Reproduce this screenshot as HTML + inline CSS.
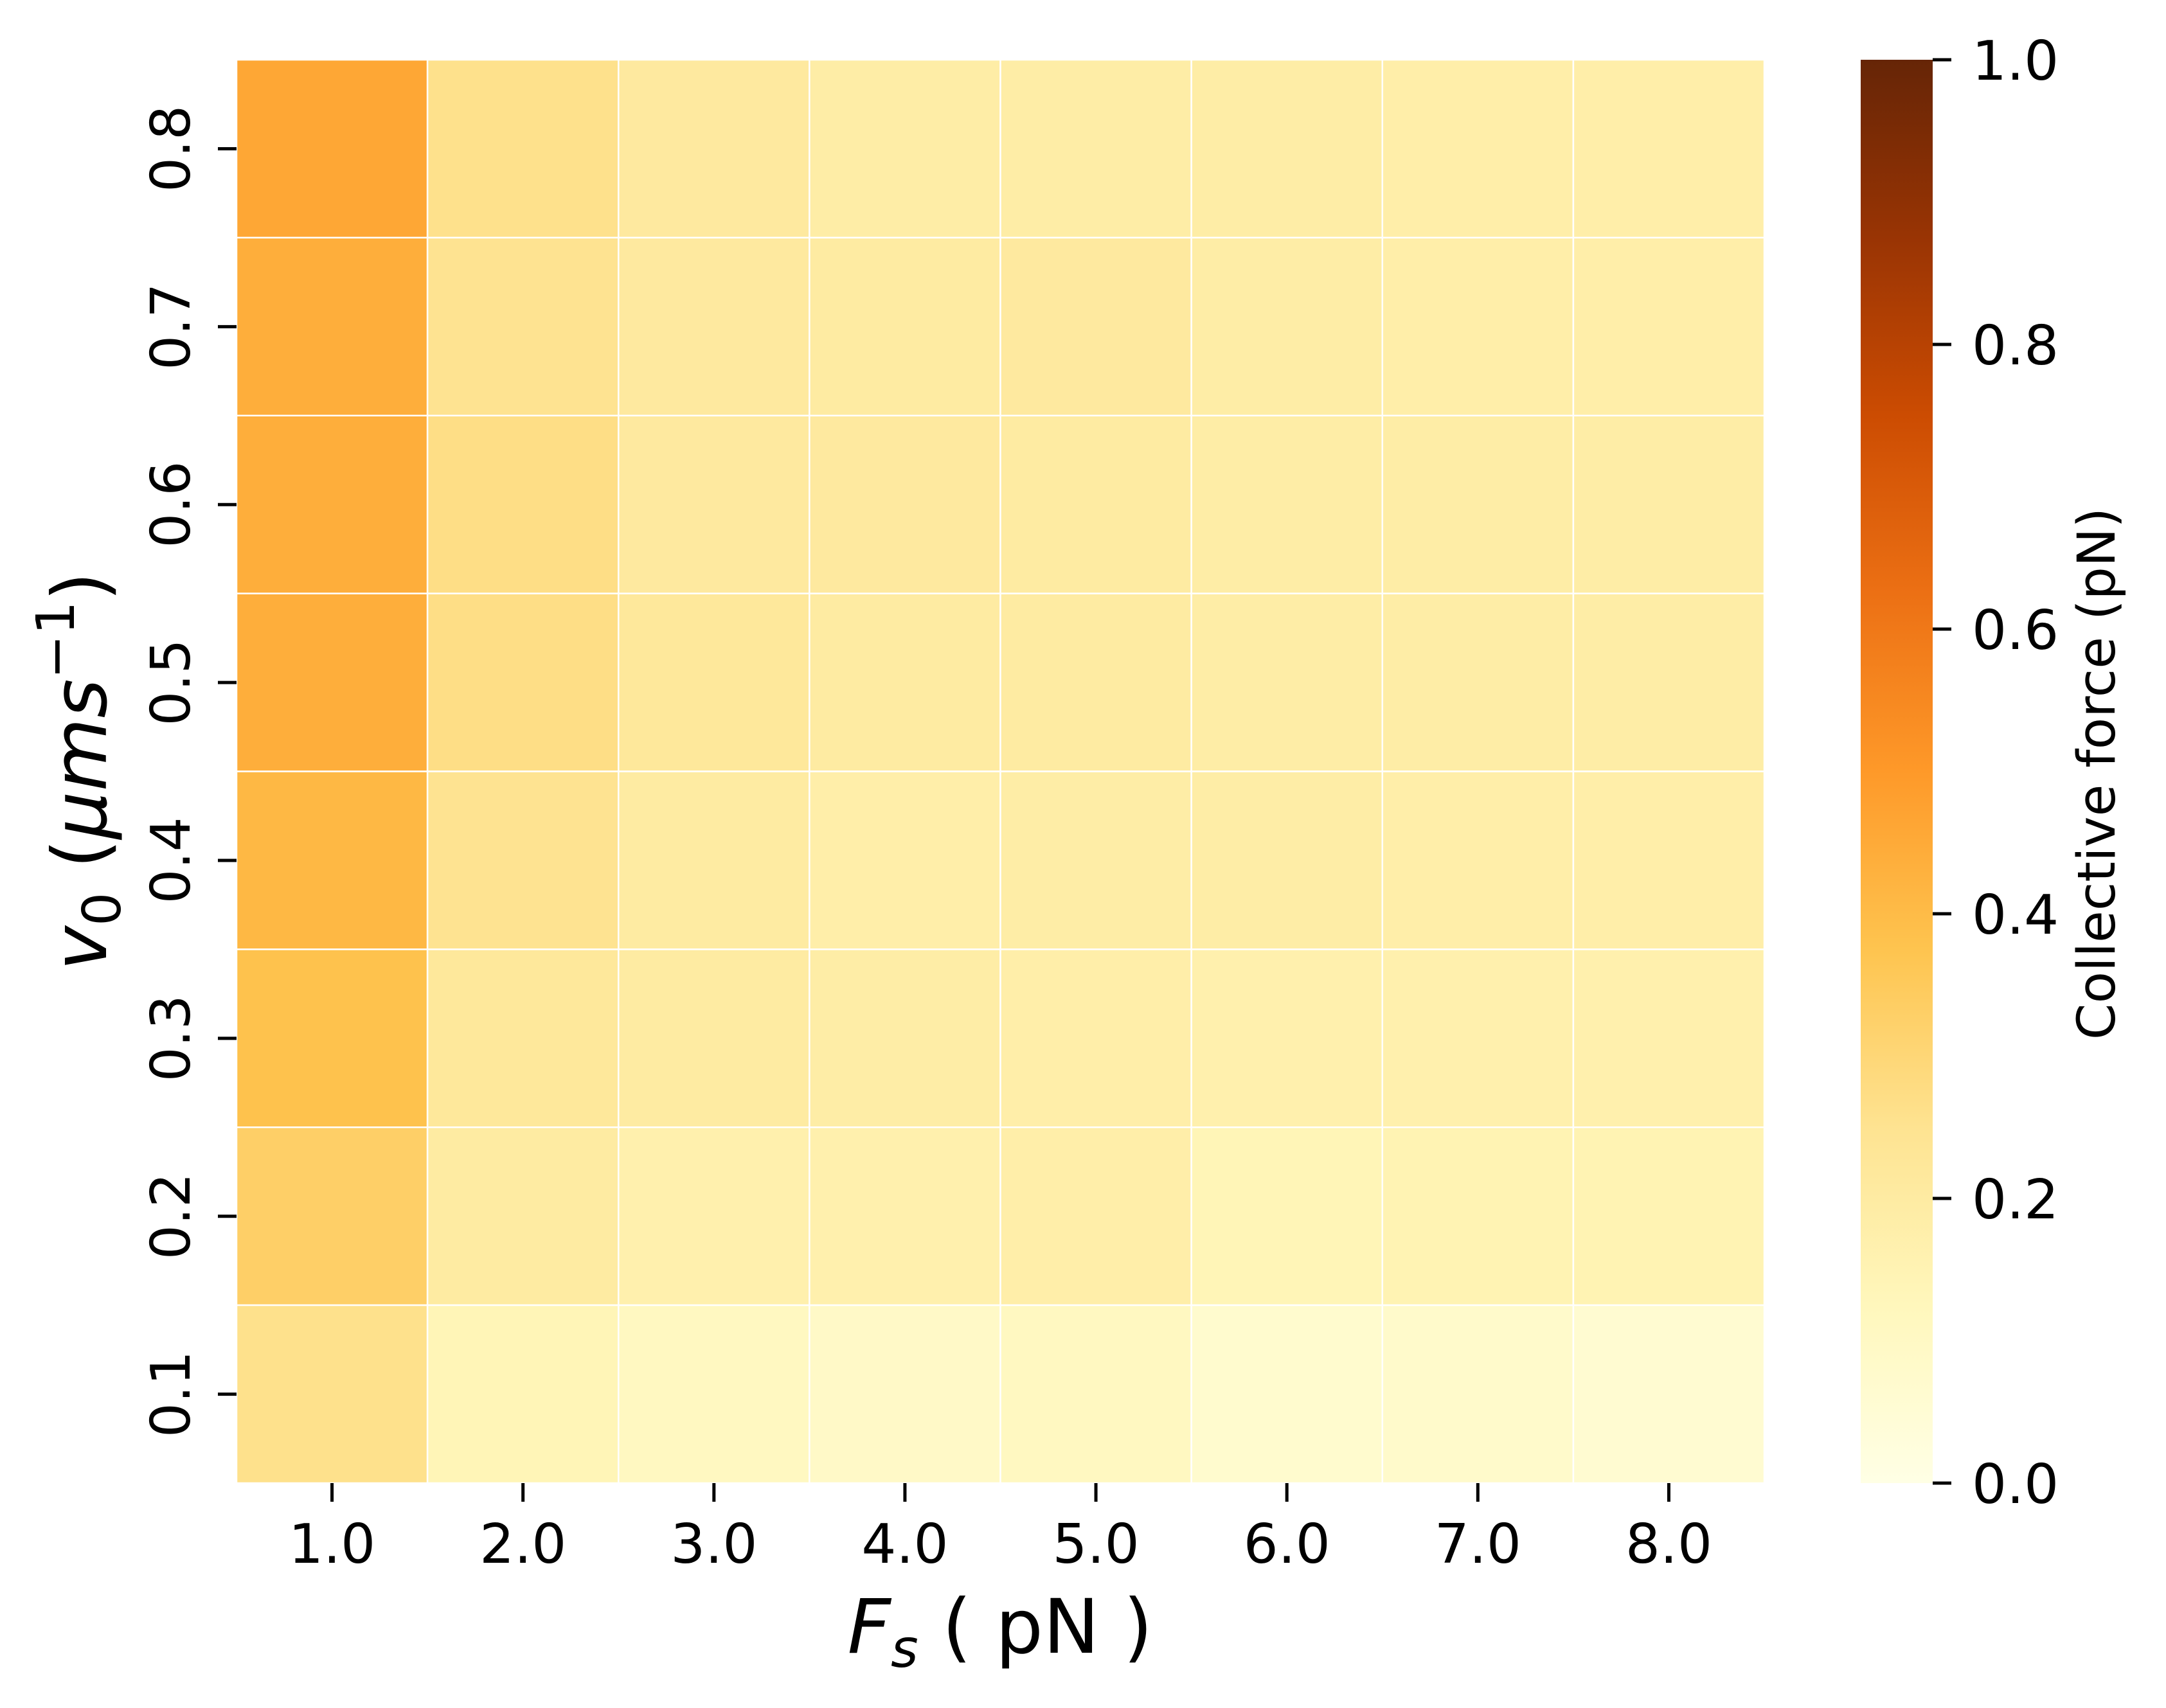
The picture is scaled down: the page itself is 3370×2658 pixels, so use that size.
<!DOCTYPE html>
<html><head><meta charset="utf-8"><style>
html,body{margin:0;padding:0;background:#fff;}
svg{display:block;}
text{font-family:"DejaVu Sans","Liberation Sans",sans-serif;fill:#000;}
</style></head><body>
<svg id="chart" xmlns="http://www.w3.org/2000/svg" width="3370" height="2658" viewBox="0 0 3370 2658">
<defs>
<linearGradient id="cbgrad" x1="0" y1="1" x2="0" y2="0">
<stop offset="0" stop-color="#ffffe5"/><stop offset="0.125" stop-color="#fff7bc"/><stop offset="0.25" stop-color="#fee391"/><stop offset="0.375" stop-color="#fec44f"/><stop offset="0.5" stop-color="#fe9929"/><stop offset="0.625" stop-color="#ec7014"/><stop offset="0.75" stop-color="#cc4c02"/><stop offset="0.875" stop-color="#993404"/><stop offset="1" stop-color="#662506"/>
</linearGradient>
</defs>
<g id="cells"></g>
<g id="xticks"></g>
<g id="yticks"></g>
<text x="1556" y="2572" text-anchor="middle" font-size="117"><tspan font-style="italic">F</tspan><tspan font-style="italic" font-size="82" dy="22">s</tspan><tspan dy="-22"> ( pN )</tspan></text>
<text transform="translate(165,1200) rotate(-90)" text-anchor="middle" font-size="117"><tspan font-style="italic">v</tspan><tspan font-size="82" dy="22">0</tspan><tspan dy="-22"> (</tspan><tspan font-style="italic">μms</tspan><tspan font-size="82" dy="-50">−1</tspan><tspan dy="50">)</tspan></text>
<rect x="2895" y="93" width="112" height="2215" fill="url(#cbgrad)"/>
<g id="cbticks"></g>
<text transform="translate(3290,1204) rotate(-90)" text-anchor="middle" font-size="81">Collective force (pN)</text>
</svg>
<script>
const xCategories = ["1.0","2.0","3.0","4.0","5.0","6.0","7.0","8.0"];
const yCategories = ["0.8","0.7","0.6","0.5","0.4","0.3","0.2","0.1"];
const row08 = [0.46,0.26,0.21,0.19,0.19,0.19,0.18,0.18];
const row07 = [0.44,0.25,0.21,0.20,0.21,0.19,0.18,0.18];
const row06 = [0.44,0.27,0.21,0.21,0.20,0.19,0.19,0.19];
const row05 = [0.44,0.27,0.22,0.20,0.20,0.19,0.19,0.19];
const row04 = [0.41,0.25,0.20,0.18,0.19,0.19,0.18,0.18];
const row03 = [0.38,0.22,0.20,0.19,0.18,0.17,0.17,0.17];
const row02 = [0.33,0.20,0.17,0.17,0.18,0.14,0.15,0.15];
const row01 = [0.26,0.14,0.11,0.09,0.11,0.07,0.08,0.06];
const cbTicks = [0.0,0.2,0.4,0.6,0.8,1.0];

const rows = [row08,row07,row06,row05,row04,row03,row02,row01];
const NS = "http://www.w3.org/2000/svg";
const L=368,R=2745,T=93,B=2308, CB_T=93, CB_B=2308, CB_R=3007;
const cw=(R-L)/xCategories.length, ch=(B-T)/yCategories.length;
const xPos = i => L + i*cw;
const yPos = j => T + j*ch;
const cbY = v => CB_B - v*(CB_B-CB_T);
const stops = ["#ffffe5","#fff7bc","#fee391","#fec44f","#fe9929","#ec7014","#cc4c02","#993404","#662506"].map(h=>[1,3,5].map(k=>parseInt(h.substr(k,2),16)));
function cmap(v){v=Math.max(0,Math.min(1,v))*8;const i=Math.min(7,Math.floor(v)),f=v-i;const c=stops[i].map((a,k)=>Math.round(a+(stops[i+1][k]-a)*f));return `rgb(${c[0]},${c[1]},${c[2]})`;}
function mk(tag,attrs,parent){const e=document.createElementNS(NS,tag);for(const k in attrs)e.setAttribute(k,attrs[k]);parent.appendChild(e);return e;}
const cells=document.getElementById('cells');
rows.forEach((row,j)=>row.forEach((v,i)=>{
  const r=mk('rect',{x:xPos(i),y:yPos(j),width:cw,height:ch,fill:cmap(v),stroke:'#fff','stroke-width':2.5},cells);
  
  
}));
const xt=document.getElementById('xticks');
xCategories.forEach((c,i)=>{
  const x=xPos(i)+cw/2;
  const l=mk('line',{x1:x,x2:x,y1:B,y2:B+29,stroke:'#000','stroke-width':5},xt);
  
  
  const t=mk('text',{x:x,y:2432,'text-anchor':'middle','font-size':85},xt);
  t.textContent=c;
  
  
});
const yt=document.getElementById('yticks');
yCategories.forEach((c,j)=>{
  const y=yPos(j)+ch/2;
  const l=mk('line',{x1:L-29,x2:L,y1:y,y2:y,stroke:'#000','stroke-width':5},yt);
  
  
  const t=mk('text',{transform:`translate(295,${y}) rotate(-90)`,'text-anchor':'middle','font-size':85},yt);
  t.textContent=c;
  
  
});
const cbt=document.getElementById('cbticks');
cbTicks.forEach(v=>{
  const y=cbY(v);
  const l=mk('line',{x1:CB_R,x2:CB_R+29,y1:y,y2:y,stroke:'#000','stroke-width':5},cbt);
  
  
  const t=mk('text',{x:3068,y:y+31,'font-size':85},cbt);
  t.textContent=v.toFixed(1);
  
  
});
</script>
</body></html>
